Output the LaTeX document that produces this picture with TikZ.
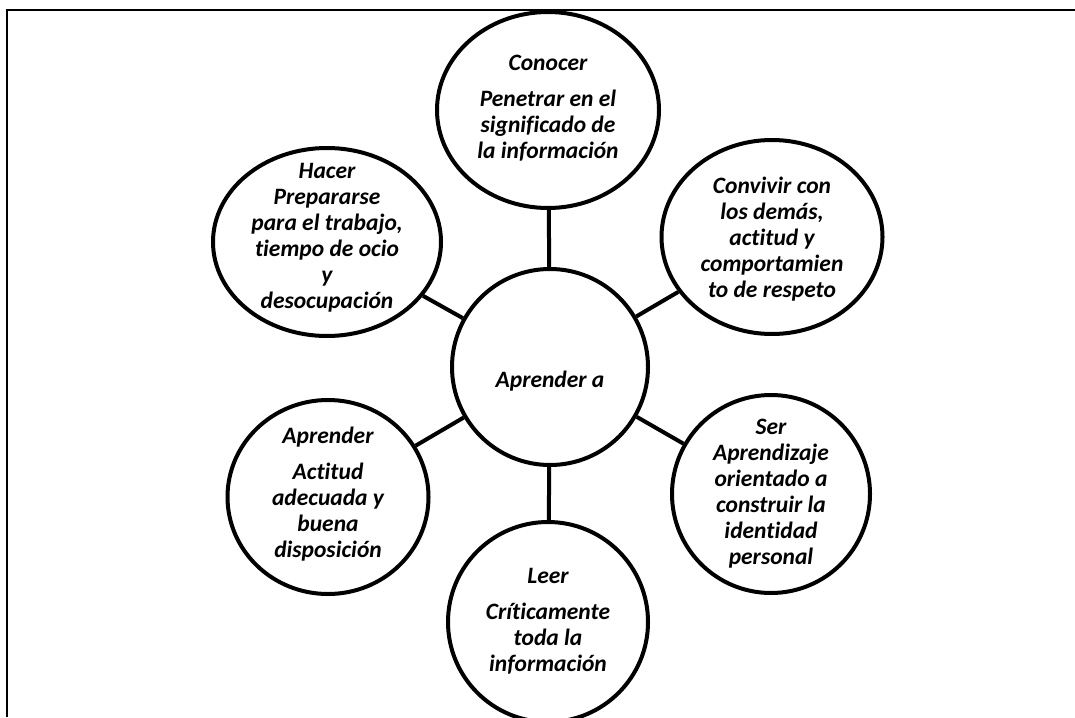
\documentclass[tikz,border=0pt]{standalone}
\usepackage{fontspec}
\setmainfont{Carlito}[Ligatures={NoCommon}]
\usetikzlibrary{shapes.geometric}
\tikzset{
  bubble/.style={draw, line width=4pt, ellipse, inner sep=0pt, fill=white},
  link/.style={line width=4pt},
  frame/.style={line width=2pt},
  txt/.style={align=center, inner sep=0pt, font=\fontsize{23.5}{26}\selectfont\bfseries\itshape}
}
\begin{document}
\begin{tikzpicture}[x=1pt,y=-1pt]
\useasboundingbox (0,0) rectangle (1075,717);
\begin{scope}
\clip (0,0) rectangle (1075,717);
\coordinate (fa) at (7,717);
\coordinate (fb) at (7,10);
\coordinate (fc) at (1076,10);
\draw[frame] (fa) -- (fb) -- (fc);

\node[bubble, minimum width=196pt, minimum height=196pt] (center) at (550,367) {};
\node[bubble, minimum width=222pt, minimum height=196pt] (conocer) at (548,110) {};
\node[bubble, minimum width=228pt, minimum height=188pt] (hacer) at (327,242) {};
\node[bubble, minimum width=221pt, minimum height=194pt] (convivir) at (772,237) {};
\node[bubble, minimum width=201pt, minimum height=194pt] (aprender) at (328,497) {};
\node[bubble, minimum width=198pt, minimum height=198pt] (ser) at (771,494) {};
\node[bubble, minimum width=200pt, minimum height=200pt] (leer) at (548,622) {};

\draw[link] (center) -- (conocer);
\draw[link] (center) -- (hacer);
\draw[link] (center) -- (convivir);
\draw[link] (center) -- (aprender);
\draw[link] (center) -- (ser);
\draw[link] (center) -- (leer);

\node[txt] (centerT) at (550,381) {Aprender a};
\node[txt] (conocerT) at (548,108) {Conocer\\[10pt]Penetrar en el\\significado de\\la información};
\node[txt] (hacerT) at (327,238) {Hacer\\Prepararse\\para el trabajo,\\tiempo de ocio\\y\\desocupación};
\node[txt] (convivirT) at (772,239) {Convivir con\\los demás,\\actitud y\\comportamien\\to de respeto};
\node[txt] (aprenderT) at (328,494) {Aprender\\[10pt]Actitud\\adecuada y\\buena\\disposición};
\node[txt] (serT) at (771,494) {Ser\\Aprendizaje\\orientado a\\construir la\\identidad\\personal};
\node[txt] (leerT) at (548,621) {Leer\\[10pt]Críticamente\\toda la\\información};
\end{scope}
\end{tikzpicture}
\end{document}
